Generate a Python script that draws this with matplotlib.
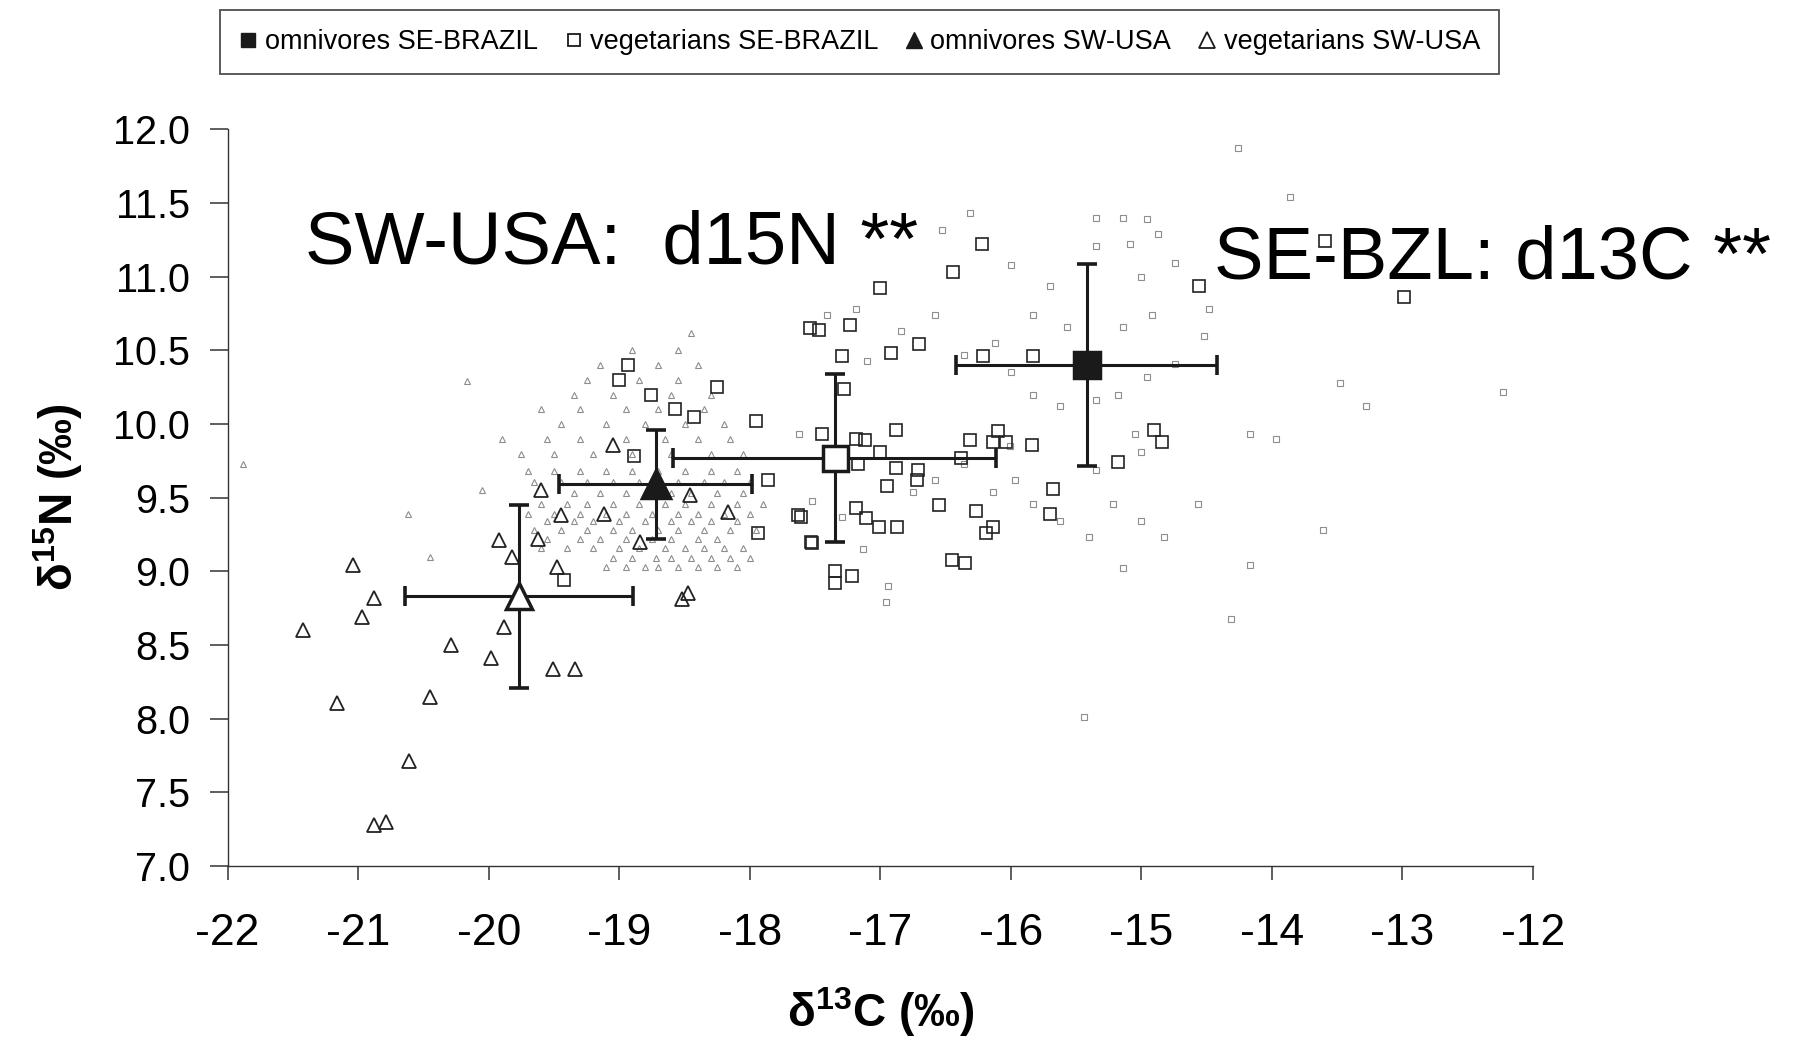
import matplotlib
matplotlib.use("Agg")
import matplotlib.pyplot as plt
from matplotlib.lines import Line2D

plt.rcParams['font.family'] = ['Liberation Sans', 'DejaVu Sans']
plt.rcParams['mathtext.default'] = 'regular'

# ---------------- data ----------------
group_labels = ["omnivores SE-BRAZIL", "vegetarians SE-BRAZIL",
                "omnivores SW-USA", "vegetarians SW-USA"]
mean_c13 = [-15.42, -17.35, -18.72, -19.77]
mean_n15 = [10.40, 9.77, 9.59, 8.83]
sd_c13 = [1.00, 1.24, 0.74, 0.875]
sd_n15 = [0.685, 0.57, 0.37, 0.62]

# vegetarians SE-BRAZIL (open squares)
veg_br_c13 = [-17.00, -16.44, -16.22, -12.99, -13.59, -14.56, -17.54, -17.47, -17.23, -16.70,
              -16.92, -17.29, -17.28, -16.21, -15.83, -16.88, -17.45, -17.19, -17.12, -17.00,
              -17.17, -16.88, -16.71, -16.72, -16.95, -16.31, -16.38, -16.10, -16.14, -16.04,
              -15.84, -14.90, -14.84, -15.18, -15.68, -15.70, -16.55, -16.27, -16.14, -16.19,
              -16.45, -16.35, -17.19, -17.11, -17.01, -16.87, -17.61, -17.52, -17.35, -17.35,
              -17.22, -18.93, -19.00, -18.76, -18.25, -18.57, -18.43, -17.95, -18.89, -17.86,
              -17.63, -17.53, -17.94, -19.42]
veg_br_n15 = [10.92, 11.03, 11.22, 10.86, 11.24, 10.94, 10.65, 10.64, 10.67, 10.54,
              10.48, 10.46, 10.24, 10.46, 10.46, 9.96, 9.93, 9.90, 9.89, 9.81,
              9.73, 9.70, 9.69, 9.62, 9.58, 9.89, 9.77, 9.95, 9.88, 9.88,
              9.86, 9.96, 9.88, 9.74, 9.56, 9.39, 9.45, 9.41, 9.30, 9.26,
              9.08, 9.06, 9.43, 9.36, 9.30, 9.30, 9.37, 9.19, 9.00, 8.92,
              8.97, 10.40, 10.30, 10.20, 10.25, 10.10, 10.05, 10.02, 9.78, 9.62,
              9.38, 9.20, 9.26, 8.94]

# vegetarians SW-USA (open triangles)
veg_us_c13 = [-21.04, -20.88, -20.97, -21.42, -20.29, -19.98, -19.88, -19.92, -19.82, -19.62,
              -19.45, -19.48, -19.12, -19.60, -19.51, -19.34, -18.52, -18.47, -20.45, -21.16,
              -20.61, -20.88, -20.79, -19.05, -18.46, -18.17, -18.84]
veg_us_n15 = [9.04, 8.82, 8.69, 8.60, 8.50, 8.41, 8.62, 9.21, 9.10, 9.22,
              9.38, 9.03, 9.39, 9.55, 8.34, 8.34, 8.81, 8.85, 8.15, 8.11,
              7.71, 7.28, 7.30, 9.86, 9.52, 9.40, 9.20]

# omnivores SW-USA (faint small markers in the scan)
omn_us_c13 = [-19.10, -18.95, -18.80, -18.70, -18.55, -18.40, -18.25, -18.10,
              -19.05, -18.90, -18.72, -18.60, -18.45, -18.30, -18.15, -18.00,
              -19.60, -19.40, -19.20, -19.00, -18.85, -18.65, -18.50, -18.35, -18.20, -18.05,
              -19.55, -19.30, -19.15, -18.95, -18.75, -18.60, -18.40, -18.25,
              -19.65, -19.45, -19.25, -19.05, -18.90, -18.70, -18.55, -18.35, -18.15, -17.95,
              -19.55, -19.35, -19.20, -19.00, -18.80, -18.60, -18.45, -18.30, -18.10,
              -19.70, -19.50, -19.30, -19.10, -18.95, -18.75, -18.55, -18.40, -18.20, -18.00,
              -19.60, -19.40, -19.25, -19.05, -18.85, -18.65, -18.50, -18.30, -18.10, -17.90,
              -19.35, -19.15, -18.95, -18.80, -18.60, -18.45, -18.25, -18.05,
              -19.65, -19.45, -19.25, -19.05, -18.85, -18.55, -18.35, -18.20, -18.00,
              -19.70, -19.50, -19.30, -19.10, -18.90, -18.70, -18.50, -18.30, -18.10,
              -19.75, -19.50, -19.20, -18.90, -18.60, -18.30, -18.05,
              -19.90, -19.55, -19.30, -18.95, -18.65, -18.40, -18.15,
              -19.45, -19.10, -18.80, -18.50, -18.20,
              -19.60, -19.30, -18.95, -18.70, -18.35,
              -19.35, -19.05, -18.60, -18.30,
              -19.25, -18.85, -18.55,
              -19.15, -18.70, -18.40,
              -18.90, -18.55, -18.45,
              -20.17, -21.88, -20.62, -20.05, -20.45]
omn_us_n15 = [9.03, 9.03, 9.03, 9.03, 9.03, 9.03, 9.03, 9.03,
              9.09, 9.09, 9.09, 9.09, 9.09, 9.09, 9.09, 9.09,
              9.16, 9.16, 9.16, 9.16, 9.16, 9.16, 9.16, 9.16, 9.16, 9.16,
              9.22, 9.22, 9.22, 9.22, 9.22, 9.22, 9.22, 9.22,
              9.28, 9.28, 9.28, 9.28, 9.28, 9.28, 9.28, 9.28, 9.28, 9.28,
              9.34, 9.34, 9.34, 9.34, 9.34, 9.34, 9.34, 9.34, 9.34,
              9.39, 9.39, 9.39, 9.39, 9.39, 9.39, 9.39, 9.39, 9.39, 9.39,
              9.46, 9.46, 9.46, 9.46, 9.46, 9.46, 9.46, 9.46, 9.46, 9.46,
              9.53, 9.53, 9.53, 9.53, 9.53, 9.53, 9.53, 9.53,
              9.61, 9.61, 9.61, 9.61, 9.61, 9.61, 9.61, 9.61, 9.61,
              9.68, 9.68, 9.68, 9.68, 9.68, 9.68, 9.68, 9.68, 9.68,
              9.80, 9.80, 9.80, 9.80, 9.80, 9.80, 9.80,
              9.90, 9.90, 9.90, 9.90, 9.90, 9.90, 9.90,
              10.00, 10.00, 10.00, 10.00, 10.00,
              10.10, 10.10, 10.10, 10.10, 10.10,
              10.20, 10.20, 10.20, 10.20,
              10.30, 10.30, 10.30,
              10.40, 10.40, 10.40,
              10.50, 10.50, 10.62,
              10.29, 9.73, 9.39, 9.55, 9.10]

# omnivores SE-BRAZIL (faint small markers in the scan)
omn_br_c13 = [-14.26, -13.86, -15.35, -15.14, -14.96, -15.35, -15.09, -14.87, -14.74, -15.00,
              -16.53, -16.31, -16.00, -15.70, -15.83, -15.57, -15.14, -14.92, -14.48, -14.52,
              -14.74, -14.96, -15.18, -15.35, -15.62, -15.83, -16.00, -16.12, -16.36, -15.00,
              -15.05, -15.35, -15.22, -15.00, -14.83, -15.14, -15.40, -15.62, -14.57, -14.17,
              -13.97, -13.48, -13.28, -12.23, -13.61, -14.17, -14.31, -15.44, -16.01, -15.97,
              -15.83, -16.14, -16.36, -16.58, -16.75, -16.96, -16.94, -17.13, -17.29, -17.52,
              -17.62, -17.10, -16.84, -16.58, -17.19, -17.41]
omn_br_n15 = [11.87, 11.54, 11.40, 11.40, 11.39, 11.21, 11.22, 11.29, 11.09, 11.00,
              11.32, 11.43, 11.08, 10.94, 10.74, 10.66, 10.66, 10.74, 10.78, 10.60,
              10.41, 10.32, 10.20, 10.16, 10.12, 10.20, 10.35, 10.55, 10.47, 9.81,
              9.93, 9.69, 9.46, 9.34, 9.23, 9.02, 9.23, 9.34, 9.46, 9.93,
              9.90, 10.28, 10.12, 10.22, 9.28, 9.04, 8.68, 8.01, 9.85, 9.62,
              9.46, 9.54, 9.73, 9.62, 9.54, 8.79, 8.90, 9.15, 9.37, 9.48,
              9.93, 10.43, 10.63, 10.74, 10.78, 10.74]

x_ticks = [-22, -21, -20, -19, -18, -17, -16, -15, -14, -13, -12]
y_ticks = [7.0, 7.5, 8.0, 8.5, 9.0, 9.5, 10.0, 10.5, 11.0, 11.5, 12.0]
y_tick_labels = ["7.0", "7.5", "8.0", "8.5", "9.0", "9.5", "10.0", "10.5", "11.0", "11.5", "12.0"]
x_tick_labels = ["-22", "-21", "-20", "-19", "-18", "-17", "-16", "-15", "-14", "-13", "-12"]

annot_usa = "SW-USA:  d15N **"
annot_bzl = "SE-BZL: d13C **"

# ---------------- figure ----------------
fig = plt.figure(figsize=(17.94, 10.42), dpi=100)
ax = fig.add_axes([0.1269, 0.1688, 0.7276, 0.7071])

faint = '#8e8e8e'
ax.plot(omn_br_c13, omn_br_n15, linestyle='none', marker='s', ms=4.5,
        mfc='none', mec=faint, mew=0.8, zorder=1, clip_on=False)
ax.plot(omn_us_c13, omn_us_n15, linestyle='none', marker='^', ms=4.5,
        mfc='none', mec=faint, mew=0.8, zorder=1, clip_on=False)

ax.plot(veg_br_c13, veg_br_n15, linestyle='none', marker='s', ms=8.5,
        mfc='none', mec='#222222', mew=1.2, zorder=2)
ax.plot(veg_us_c13, veg_us_n15, linestyle='none', marker='^', ms=10,
        mfc='none', mec='#222222', mew=1.3, zorder=2)

mean_markers = ['s', 's', '^', '^']
mean_faces = ['#1a1a1a', 'white', '#1a1a1a', 'white']
mean_sizes = [19, 18, 20, 19]
for i in range(4):
    ax.errorbar(mean_c13[i], mean_n15[i], xerr=sd_c13[i], yerr=sd_n15[i],
                fmt='none', ecolor='#1a1a1a', elinewidth=2.2, capsize=7,
                capthick=2.6, zorder=3)
    ax.plot(mean_c13[i], mean_n15[i], linestyle='none', marker=mean_markers[i],
            ms=mean_sizes[i], mfc=mean_faces[i], mec='#1a1a1a', mew=2.5, zorder=4)

ax.set_xlim(-22, -12)
ax.set_ylim(7.0, 12.0)
ax.set_xticks(x_ticks)
ax.set_xticklabels(x_tick_labels)
ax.set_yticks(y_ticks)
ax.set_yticklabels(y_tick_labels)

for s in ['top', 'right']:
    ax.spines[s].set_visible(False)
for s in ['left', 'bottom']:
    ax.spines[s].set_linewidth(1.0)
    ax.spines[s].set_color('#333333')

ax.tick_params(axis='y', direction='out', length=13, width=1.1, pad=14,
               labelsize=28.5, color='#333333')
ax.tick_params(axis='x', direction='out', length=10, width=1.1, pad=24,
               labelsize=32, color='#333333')

ax.set_xlabel('δ$^{13}$C (‰)', fontsize=33, fontweight='bold', labelpad=22)
ax.set_ylabel('δ$^{15}$N (‰)', fontsize=33, fontweight='bold', labelpad=20)

ax.text(-21.41, 11.09, annot_usa, fontsize=53.5, ha='left', va='baseline', zorder=5)
ax.text(-14.44, 10.99, annot_bzl, fontsize=53.5, ha='left', va='baseline', zorder=5)

handles = [
    Line2D([], [], linestyle='none', marker='s', ms=10, mfc='#1a1a1a', mec='#1a1a1a'),
    Line2D([], [], linestyle='none', marker='s', ms=9, mfc='white', mec='#1a1a1a', mew=1.3),
    Line2D([], [], linestyle='none', marker='^', ms=11, mfc='#1a1a1a', mec='#1a1a1a'),
    Line2D([], [], linestyle='none', marker='^', ms=11, mfc='white', mec='#1a1a1a', mew=1.3),
]
leg = fig.legend(handles, group_labels, ncol=4, mode='expand', loc='lower left',
                 bbox_to_anchor=(0.1226, 0.929, 0.7129, 0.0624), borderaxespad=0,
                 fontsize=19.5, frameon=True, fancybox=False, handlelength=0.7,
                 handletextpad=0.25, borderpad=0.7, columnspacing=1.0)
leg.get_frame().set_edgecolor('#222222')
leg.get_frame().set_linewidth(1.3)

fig.savefig('out.png', dpi=100, facecolor='white')
